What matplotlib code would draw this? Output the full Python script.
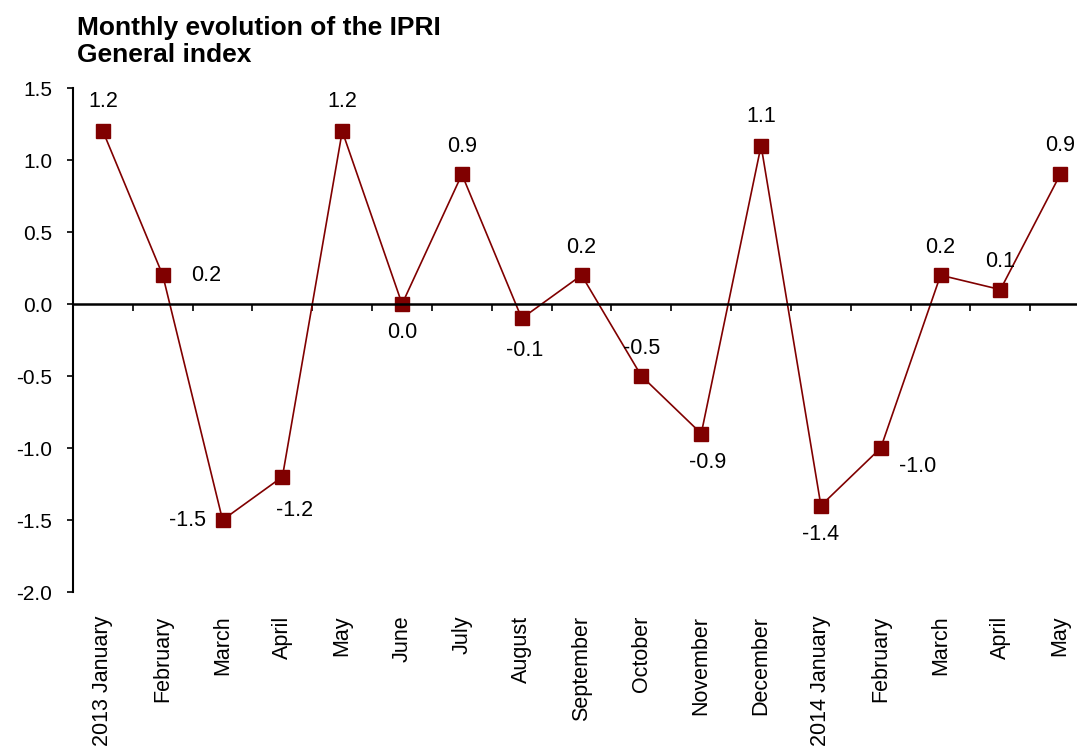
import numpy as np
import matplotlib
matplotlib.use("Agg")
from matplotlib import pyplot as plt

months = ["2013 January", "February", "March", "April", "May", "June", "July",
          "August", "September", "October", "November", "December",
          "2014 January", "February", "March", "April", "May"]
values = [1.2, 0.2, -1.5, -1.2, 1.2, 0.0, 0.9, -0.1, 0.2, -0.5, -0.9, 1.1,
          -1.4, -1.0, 0.2, 0.1, 0.9]
# label placement relative to each point, in pixels (dx, dy)
label_off = [(0, 30), (43, 0), (-35, 0), (12, -34), (0, 30), (0, -29),
             (0, 28), (3, -32), (0, 28), (0, 28), (6, -29), (0, 29),
             (0, -29), (37, -19), (0, 28), (0, 28), (0, 29)]

plt.rcParams['font.family'] = ['Liberation Sans', 'DejaVu Sans']
red = "#800000"

fig = plt.figure(figsize=(10.77, 7.47), dpi=100)
ax = fig.add_axes([73 / 1077, 1 - 592 / 747, 1 - 73 / 1077, (592 - 88) / 747])

x = np.arange(len(values))
ax.plot(x, values, color=red, lw=1.2, marker="s", markersize=10.5,
        markerfacecolor=red, markeredgecolor=red)

for xi, v, (dx, dy) in zip(x, values, label_off):
    ax.annotate(f"{v:.1f}", (xi, v), xytext=(dx * 0.72, dy * 0.72),
                textcoords="offset points", ha="center", va="center", fontsize=15.5)

ax.set_ylim(-2.0, 1.5)
ax.set_xlim(-0.5, 16.28)
yt = np.arange(-2.0, 1.51, 0.5)
ax.set_yticks(yt)
ax.set_yticklabels([f"{t:.1f}" for t in yt])
ax.tick_params(axis="y", direction="out", length=4, width=1.2, pad=11, labelsize=15)

for s in ["top", "right"]:
    ax.spines[s].set_visible(False)
ax.spines["left"].set_linewidth(1.5)
ax.spines["bottom"].set_position(("data", 0))
ax.spines["bottom"].set_linewidth(1.8)
ax.set_xticks(x[:-1] + 0.5)
ax.set_xticklabels([])
ax.tick_params(axis="x", direction="out", length=5, width=1.2)

sec = ax.secondary_xaxis("bottom")
sec.spines["bottom"].set_visible(False)
sec.set_xticks(x)
sec.set_xticklabels(months, rotation=90, va="top", ha="center", fontsize=15.5)
sec.tick_params(length=0, pad=17)

fig.text(77 / 1077, 1 - 16 / 747, "Monthly evolution of the IPRI\nGeneral index",
         ha="left", va="top", fontsize=19, fontweight="bold", linespacing=1.18)

fig.savefig("out.png", dpi=100)
